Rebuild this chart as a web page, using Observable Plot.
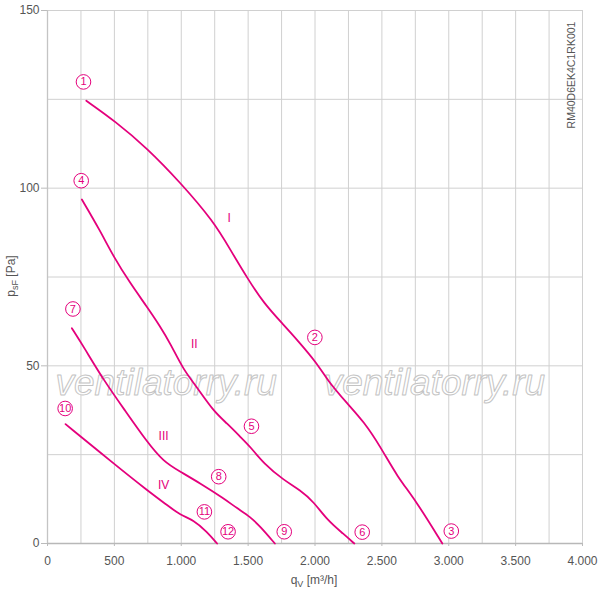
<!DOCTYPE html>
<html><head><meta charset="utf-8">
<script src="https://cdn.jsdelivr.net/npm/d3@7"></script>
<script src="https://cdn.jsdelivr.net/npm/@observablehq/plot@0.6"></script>
<style>body{margin:0;background:#fff;font-family:"Liberation Sans",Arial,sans-serif}</style>
</head><body><div id="chart"></div>
<script>
// ---- data ----
const curveNames = ["I", "II", "III", "IV"];
const curveI_q = [290, 507, 744, 993, 1243, 1368, 1492, 1617, 1766, 1867, 2016, 2091, 2241, 2365, 2490, 2615, 2752, 2952];
const curveI_p = [124.6, 118.8, 111.3, 101.6, 90.6, 82.6, 74.8, 67.6, 61.5, 57.3, 50.7, 46.0, 39.4, 34.3, 27.2, 18.8, 12.2, 0];
const curveII_q = [257, 394, 494, 619, 744, 844, 918, 1018, 1106, 1243, 1343, 1442, 1517, 1617, 1767, 1891, 1991, 2091, 2216, 2294];
const curveII_p = [96.8, 88.0, 80.7, 73.2, 66.6, 61.0, 56.3, 48.8, 44.6, 37.1, 33.8, 30.0, 27.2, 22.5, 17.8, 15.0, 11.7, 6.6, 2.6, 0];
const curveIII_q = [182, 270, 419, 582, 744, 868, 993, 1143, 1317, 1418, 1517, 1592, 1700];
const curveIII_p = [60.6, 55.4, 46.0, 37.3, 28.6, 23.0, 20.2, 16.9, 12.7, 9.9, 7.5, 4.7, 0];
const curveIV_q = [135, 494, 744, 894, 993, 1093, 1193, 1268];
const curveIV_p = [33.6, 22.5, 15.0, 10.8, 8.0, 6.6, 3.3, 0];

const pointLabels = ["1", "2", "3", "4", "5", "6", "7", "8", "9", "10", "11", "12"];
const pointLabel_q = [269, 1999, 3019, 252, 1525, 2353, 190, 1280, 1770, 132, 1173, 1350];
const pointLabel_p = [129.9, 58.0, 3.5, 102.1, 33.0, 3.2, 66.0, 18.8, 3.3, 38.0, 8.9, 3.3];

const romanLabels = ["I", "II", "III", "IV"];
const roman_q = [1358, 1098, 868, 868];
const roman_p = [91.5, 56.1, 30.2, 16.4];

const xTicks = [0, 500, 1000, 1500, 2000, 2500, 3000, 3500, 4000];
const xTickLabels = ["0", "500", "1.000", "1.500", "2.000", "2.500", "3.000", "3.500", "4.000"];
const yTicks = [0, 50, 100, 150];
const yTickLabels = ["0", "50", "100", "150"];
const xGrid = [0, 250, 500, 750, 1000, 1250, 1500, 1750, 2000, 2250, 2500, 2750, 3000, 3250, 3500, 3750, 4000];
const yGrid = [0, 25, 50, 75, 100, 125, 150];

const watermarkText = "ventilatorry.ru";
const watermark_q = [60, 2065];
const watermark_p = [45.2, 45.2];
const modelCode = "RM40D6EK4C1RK001";

// ---- build tables ----
const qs = [curveI_q, curveII_q, curveIII_q, curveIV_q];
const ps = [curveI_p, curveII_p, curveIII_p, curveIV_p];
const rows = curveNames.flatMap((name, k) => qs[k].map((q, i) => ({curve: name, q, p: ps[k][i]})));
const labels = pointLabels.map((t, i) => ({t, q: pointLabel_q[i], p: pointLabel_p[i]}));
const romans = romanLabels.map((t, i) => ({t, q: roman_q[i], p: roman_p[i]}));
const marks = watermark_q.map((q, i) => ({q, p: watermark_p[i], t: watermarkText}));

const magenta = "#e4007c";
const font = "Liberation Sans, Arial, sans-serif";

const chart = Plot.plot({
  width: 600, height: 590,
  marginLeft: 47, marginRight: 18, marginTop: 10, marginBottom: 47,
  x: {domain: [0, 4000]},
  y: {domain: [0, 150]},
  style: {fontFamily: font, fontSize: "12px", color: "#555", background: "#fff"},
  marks: [
    Plot.gridX(xGrid, {stroke: "#d0d0d0", strokeOpacity: 1, strokeWidth: 1}),
    Plot.gridY(yGrid, {stroke: "#d0d0d0", strokeOpacity: 1, strokeWidth: 1}),
    Plot.axisX(xTicks, {tickFormat: d => xTickLabels[xTicks.indexOf(d)], tickSize: 3, tickPadding: 10, label: null, stroke: "#bbb", fill: "#555", fontSize: 12}),
    Plot.axisY(yTicks, {tickFormat: d => yTickLabels[yTicks.indexOf(d)], tickSize: 6, tickPadding: 2, label: null, stroke: "#bbb", fill: "#555", fontSize: 12}),
    Plot.ruleY([0], {stroke: "#b8b8b8", strokeWidth: 1.6}),
    Plot.ruleX([0], {stroke: "#c4c4c4", strokeWidth: 1.3}),
    Plot.text(marks, {x: "q", y: "p", text: "t", ariaLabel: "watermark", textAnchor: "start", fontSize: 37, fontStyle: "italic", fill: "white", fillOpacity: 0.85, stroke: "#c4c4c4", strokeWidth: 1, paintOrder: "normal"}),
    Plot.line(rows, {x: "q", y: "p", z: "curve", stroke: magenta, strokeWidth: 1.8, curve: "basis"}),
    Plot.dot(labels, {x: "q", y: "p", r: 7.3, stroke: magenta, fill: "white", strokeWidth: 1}),
    Plot.text(labels, {x: "q", y: "p", text: "t", fill: magenta, fontSize: 11}),
    Plot.text(romans, {x: "q", y: "p", text: "t", fill: magenta, fontSize: 12})
  ]
});

const svg = d3.select(chart);
svg.selectAll('g[aria-label="watermark"] text').attr("letter-spacing", 1.6);
// x axis label
const xl = svg.append("text").attr("x", 314).attr("y", 584).attr("text-anchor", "middle")
  .attr("font-family", font).attr("font-size", 12).attr("fill", "#555");
xl.append("tspan").text("q");
xl.append("tspan").attr("font-size", 9).attr("dy", 3).text("V");
xl.append("tspan").attr("dy", -3).text(" [m³/h]");
// y axis label
const yl = svg.append("text").attr("transform", "translate(15,276) rotate(-90)").attr("text-anchor", "middle")
  .attr("font-family", font).attr("font-size", 12).attr("fill", "#555");
yl.append("tspan").text("p");
yl.append("tspan").attr("font-size", 9).attr("dy", 3).text("sF");
yl.append("tspan").attr("dy", -3).text(" [Pa]");
// model code
svg.append("text").attr("transform", "translate(575,75) rotate(-90)").attr("text-anchor", "middle")
  .attr("font-family", font).attr("font-size", 10.5).attr("fill", "#555").text(modelCode);

document.getElementById("chart").appendChild(chart);
</script>
</body></html>
